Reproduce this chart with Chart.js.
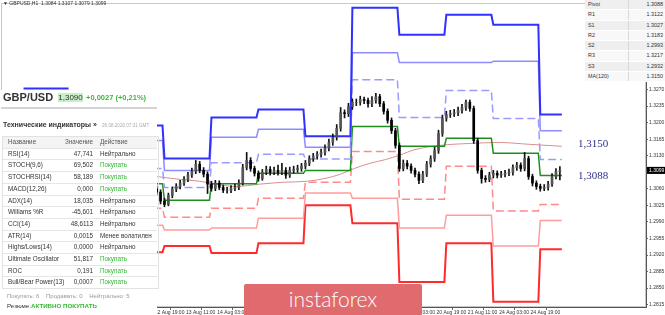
<!DOCTYPE html>
<html>
<head>
<meta charset="utf-8">
<script src="https://cdn.jsdelivr.net/npm/chart.js@4.4.0/dist/chart.umd.min.js"></script>
<style>
  body { margin: 0; background: #fff; }
  #wrap { position: relative; width: 665px; height: 315px; overflow: hidden; background: #fff; font-family: "Liberation Sans", Arial, sans-serif; }
  #c { position: absolute; left: 0; top: 0; }
  .abs { position: absolute; white-space: nowrap; }
  #panel { position: absolute; left: 0; top: 90px; width: 157px; height: 225px; background: #fff; }
  #pivtab { position: absolute; left: 585px; top: 0; width: 80px; background: #fff; }
  #banner { position: absolute; left: 244px; top: 284px; width: 178px; height: 31px; background: #e06b6e; border-radius: 2px 2px 0 0;
            color: #fff; font-family: Lato, "Open Sans", sans-serif; font-weight: 300; font-size: 21px; line-height: 29px; text-align: center; }
</style>
</head>
<body>
<div id="wrap">
  <canvas id="c" width="665" height="315"></canvas>
  <div class="abs" style="left:3px;top:0px;font-size:5px;color:#333;">&#9660; GBPUSD,H1&nbsp; 1.3084 1.3107 1.3079 1.3099</div>
  <div id="panel"></div>
  <div id="pivtab"></div>
  <div id="banner">instaforex</div>
</div>
<script>
// bar index 0 = 12 Aug 19:00 (H1)
const dayNames = ['10 Aug', '11 Aug', '12 Aug', '13 Aug', '14 Aug', '17 Aug', '18 Aug', '19 Aug', '20 Aug', '21 Aug', '24 Aug', '25 Aug'];
const dayStart = [-67, -43, -19, 5, 29, 53, 77, 101, 125, 149, 173, 197];
const lastBar = 208;

const levelR3 = [1.3272, null, 1.3194, 1.3124, 1.3211, 1.3228, 1.3171, 1.3443, 1.3386, 1.3428, 1.3407, 1.3217];
const levelR2 = [null, null, 1.3162, 1.3099, 1.3169, 1.3186, 1.3148, 1.3348, 1.3327, 1.3327, 1.3330, 1.3183];
const levelR1 = [null, null, 1.3103, 1.3063, 1.3115, 1.3133, 1.3123, 1.3291, 1.3211, 1.3268, 1.3209, 1.3122];
const levelP  = [null, null, 1.3071, 1.3036, 1.3071, 1.3093, 1.3099, 1.3192, 1.3150, 1.3167, 1.3135, 1.3088];
const levelS1 = [null, null, 1.3019, 1.3000, 1.3019, 1.3040, 1.3074, 1.3139, 1.3038, 1.3108, 1.3013, 1.3027];
const levelS2 = [null, null, 1.2983, 1.2973, 1.2977, 1.2998, 1.3051, 1.3040, 1.2977, 1.3004, 1.2939, 1.2993];
const levelS3 = [null, null, 1.2926, 1.2939, 1.2924, 1.2945, 1.3025, 1.2987, 1.2863, 1.2945, 1.2821, 1.2932];

const maBars   = [1, 13, 23, 31, 41, 54, 66, 78, 87, 95, 102, 110, 118, 125, 133, 146, 161, 176, 192, 208];
const maValues = [1.3086, 1.3080, 1.3076, 1.3070, 1.3065, 1.3070, 1.3074, 1.3076, 1.3082, 1.3091,
                  1.3103, 1.3114, 1.3122, 1.3131, 1.3143, 1.3152, 1.3156, 1.3158, 1.3154, 1.3150];

// one candle per two H1 bars, starting at bar 1
const firstOpen = 1.3060;
const candleClose = [
  1.3053, 1.3034, 1.3027, 1.3046, 1.3059, 1.3065, 1.3072, 1.3080, 1.3089, 1.3097,
  1.3112, 1.3099, 1.3091, 1.3070, 1.3061, 1.3072, 1.3063, 1.3057, 1.3057, 1.3061,
  1.3063, 1.3072, 1.3105, 1.3120, 1.3103, 1.3093, 1.3082, 1.3095, 1.3101, 1.3095,
  1.3099, 1.3095, 1.3099, 1.3089, 1.3099, 1.3101, 1.3103, 1.3108, 1.3114, 1.3124,
  1.3129, 1.3133, 1.3137, 1.3146, 1.3158, 1.3169, 1.3188, 1.3221, 1.3219, 1.3234,
  1.3243, 1.3243, 1.3249, 1.3247, 1.3240, 1.3247, 1.3255, 1.3240, 1.3224, 1.3205,
  1.3183, 1.3152, 1.3103, 1.3114, 1.3108, 1.3099, 1.3091, 1.3078, 1.3091, 1.3112,
  1.3124, 1.3141, 1.3177, 1.3209, 1.3217, 1.3219, 1.3221, 1.3226, 1.3232, 1.3243,
  1.3230, 1.3162, 1.3099, 1.3082, 1.3080, 1.3089, 1.3093, 1.3089, 1.3091, 1.3093,
  1.3095, 1.3105, 1.3110, 1.3103, 1.3124, 1.3086, 1.3072, 1.3065, 1.3061, 1.3063,
  1.3070, 1.3086, 1.3097, 1.3099
];
const candleHigh = [
  1.3066, 1.3058, 1.3040, 1.3051, 1.3064, 1.3071, 1.3078, 1.3086, 1.3095, 1.3104,
  1.3120, 1.3118, 1.3105, 1.3096, 1.3076, 1.3078, 1.3077, 1.3068, 1.3063, 1.3067,
  1.3070, 1.3079, 1.3112, 1.3137, 1.3126, 1.3108, 1.3098, 1.3101, 1.3108, 1.3107,
  1.3106, 1.3110, 1.3114, 1.3105, 1.3106, 1.3108, 1.3110, 1.3114, 1.3120, 1.3130,
  1.3135, 1.3139, 1.3144, 1.3153, 1.3165, 1.3176, 1.3196, 1.3232, 1.3227, 1.3241,
  1.3250, 1.3250, 1.3256, 1.3254, 1.3252, 1.3255, 1.3262, 1.3260, 1.3245, 1.3229,
  1.3210, 1.3188, 1.3157, 1.3121, 1.3120, 1.3113, 1.3104, 1.3096, 1.3097, 1.3118,
  1.3130, 1.3148, 1.3184, 1.3216, 1.3224, 1.3226, 1.3228, 1.3233, 1.3239, 1.3248,
  1.3248, 1.3235, 1.3167, 1.3104, 1.3088, 1.3095, 1.3099, 1.3098, 1.3097, 1.3099,
  1.3102, 1.3111, 1.3116, 1.3115, 1.3137, 1.3129, 1.3091, 1.3077, 1.3070, 1.3069,
  1.3076, 1.3092, 1.3103, 1.3107
];
const candleLow = [
  1.3047, 1.3028, 1.3022, 1.3024, 1.3041, 1.3054, 1.3060, 1.3067, 1.3075, 1.3084,
  1.3092, 1.3094, 1.3085, 1.3050, 1.3055, 1.3056, 1.3058, 1.3052, 1.3051, 1.3052,
  1.3056, 1.3058, 1.3068, 1.3100, 1.3097, 1.3087, 1.3076, 1.3078, 1.3090, 1.3089,
  1.3090, 1.3089, 1.3090, 1.3082, 1.3084, 1.3093, 1.3095, 1.3097, 1.3102, 1.3109,
  1.3118, 1.3123, 1.3127, 1.3131, 1.3140, 1.3152, 1.3163, 1.3182, 1.3210, 1.3213,
  1.3228, 1.3236, 1.3237, 1.3240, 1.3233, 1.3234, 1.3241, 1.3234, 1.3218, 1.3199,
  1.3177, 1.3146, 1.3097, 1.3098, 1.3102, 1.3093, 1.3085, 1.3071, 1.3073, 1.3086,
  1.3106, 1.3118, 1.3135, 1.3171, 1.3203, 1.3211, 1.3213, 1.3215, 1.3220, 1.3226,
  1.3224, 1.3156, 1.3093, 1.3072, 1.3074, 1.3075, 1.3083, 1.3083, 1.3084, 1.3085,
  1.3088, 1.3089, 1.3099, 1.3097, 1.3098, 1.3080, 1.3066, 1.3059, 1.3055, 1.3056,
  1.3057, 1.3065, 1.3081, 1.3079
];

const yTicks = [1.2815, 1.2850, 1.2885, 1.2920, 1.2955, 1.2990, 1.3025, 1.3060, 1.3095, 1.3130,
                1.3165, 1.3200, 1.3235, 1.3270, 1.3305, 1.3340, 1.3375, 1.3410, 1.3445];
const xTickBars = [-64, -48, -32, -16, 0, 16, 32, 48, 64, 80, 96, 112, 128, 144, 160, 176, 192];
const xTickLabels = ['10 Aug 19:00', '11 Aug 11:00', '12 Aug 03:00', '12 Aug 11:00', '12 Aug 19:00', '13 Aug 11:00',
                     '14 Aug 03:00', '14 Aug 19:00', '17 Aug 11:00', '18 Aug 03:00', '18 Aug 19:00', '19 Aug 11:00',
                     '20 Aug 03:00', '20 Aug 19:00', '21 Aug 11:00', '24 Aug 03:00', '24 Aug 19:00'];

const indNames = ['RSI(14)', 'STOCH(9,6)', 'STOCHRSI(14)', 'MACD(12,26)', 'ADX(14)', 'Williams %R', 'CCI(14)',
                  'ATR(14)', 'Highs/Lows(14)', 'Ultimate Oscillator', 'ROC', 'Bull/Bear Power(13)'];
const indValues = ['47,741', '69,502', '58,189', '0,000', '18,035', '-45,601', '48,6113', '0,0015', '0,0000', '51,817', '0,191', '0,0007'];
const indActions = ['Нейтрально', 'Покупать', 'Покупать', 'Покупать', 'Нейтрально', 'Нейтрально', 'Нейтрально',
                    'Менее волатилен', 'Нейтрально', 'Покупать', 'Покупать', 'Покупать'];

const pivotNames = ['Pivot', 'R1', 'S1', 'R2', 'S2', 'R3', 'S3', 'MA(120)'];
const pivotValues = ['1.3088', '1.3122', '1.3027', '1.3183', '1.2993', '1.3217', '1.2932', '1.3150'];


// ---- html panels ----
const panel = document.getElementById('panel');
let html = '';
html += '<div class="abs" style="left:3px;top:1px;font-size:11px;font-weight:bold;color:#333;">GBP/USD</div>';
html += '<div class="abs" style="left:58px;top:3px;width:25px;height:9px;background:#c9efc9;font-size:8px;line-height:9px;text-align:center;color:#333;">1,3090</div>';
html += '<div class="abs" style="left:86px;top:3px;font-size:7.5px;line-height:9px;font-weight:bold;color:#3cb83c;">+0,0027 (+0,21%)</div>';
html += '<div class="abs" style="left:1px;top:17px;width:156px;height:1.5px;background:#d4d4d4;"></div>';
html += '<div class="abs" style="left:3px;top:31px;font-size:7px;font-weight:bold;color:#333;">Технические индикаторы »</div>';
html += '<div class="abs" style="left:102px;top:33px;font-size:4.6px;color:#aaa;">26.08.2020 07:31 GMT</div>';

const rowH = 11.7;
const tabTop = 46;
html += '<div class="abs" style="left:2px;top:' + tabTop + 'px;width:155px;height:' + (rowH * 13 - 1) + 'px;border:1px solid #e2e2e2;"></div>';
html += '<div class="abs" style="left:3px;top:' + (tabTop + 1) + 'px;width:154px;height:' + (rowH - 1) + 'px;background:#f4f4f4;"></div>';
const rowText = (top, name, val, act, actColor, nameColor) =>
  '<div class="abs" style="left:8px;top:' + top + 'px;font-size:6.3px;line-height:' + rowH + 'px;color:' + nameColor + ';">' + name + '</div>' +
  '<div class="abs" style="left:40px;width:53px;text-align:right;top:' + top + 'px;font-size:6.3px;line-height:' + rowH + 'px;color:' + nameColor + ';">' + val + '</div>' +
  '<div class="abs" style="left:100px;top:' + top + 'px;font-size:6.3px;line-height:' + rowH + 'px;color:' + actColor + ';">' + act + '</div>';
html += rowText(tabTop, 'Название', 'Значение', 'Действие', '#555', '#555');
for (let i = 0; i < indNames.length; i++) {
  const top = tabTop + rowH * (i + 1);
  html += '<div class="abs" style="left:3px;top:' + top + 'px;width:154px;height:1px;background:#e6e6e6;"></div>';
  const green = indActions[i] === 'Покупать';
  html += rowText(top, indNames[i], indValues[i], indActions[i], green ? '#33b833' : '#333', '#333');
}
html += '<div class="abs" style="left:7px;top:203px;font-size:6px;color:#999;">Покупать: 6&nbsp;&nbsp;&nbsp; Продавать: 0&nbsp;&nbsp;&nbsp; Нейтрально: 5</div>';
html += '<div class="abs" style="left:7px;top:212px;font-size:6.2px;color:#333;">Резюме:<span style="color:#33b833;font-weight:bold;">АКТИВНО ПОКУПАТЬ</span></div>';
panel.innerHTML = html;

const pivtab = document.getElementById('pivtab');
let ph = '';
for (let i = 0; i < pivotNames.length; i++) {
  const bg = i % 2 === 0 ? '#efefef' : '#f8f8f8';
  ph += '<div style="position:relative;height:9.3px;background:' + bg + ';border-bottom:0.5px solid #fff;font-size:5.4px;line-height:9.3px;color:#333;">' +
        '<span style="position:absolute;left:3px;">' + pivotNames[i] + '</span>' +
        '<span style="position:absolute;left:43px;top:0;bottom:0;width:0.6px;background:#d8d8d8;"></span>' +
        '<span style="position:absolute;right:2px;">' + pivotValues[i] + '</span></div>';
}
pivtab.innerHTML = ph;


// ---- chart data ----
function levelPoints(vals) {
  const pts = [];
  for (let k = 0; k < vals.length; k++) {
    if (vals[k] === null) { pts.push({ x: dayStart[k], y: null }); continue; }
    const end = k + 1 < vals.length ? dayStart[k + 1] - 1 : lastBar;
    pts.push({ x: dayStart[k], y: vals[k] }, { x: end, y: vals[k] });
  }
  return pts;
}

const candleBars = candleClose.map((c, i) => 1 + 2 * i);
const candleOpen = candleClose.map((c, i) => i === 0 ? firstOpen : candleClose[i - 1]);

function levelSet(label, vals, color, width, dash) {
  return {
    type: 'line', label: label, data: levelPoints(vals),
    borderColor: color, borderWidth: width, borderDash: dash || [],
    pointRadius: 0, tension: 0, spanGaps: false, order: 2
  };
}

const priceLabels = {
  id: 'priceLabels',
  afterDatasetsDraw(chart) {
    const ctx = chart.ctx;
    const y = chart.scales.y;
    const area = chart.chartArea;
    ctx.save();
    // frame
    ctx.strokeStyle = '#c8c8c8';
    ctx.lineWidth = 1;
    ctx.strokeRect(area.left - 0.5, area.top - 0.5, area.right - area.left, area.bottom - area.top);
    // level captions
    ctx.fillStyle = '#2e2e88';
    ctx.font = '11px "Liberation Serif", serif';
    ctx.textBaseline = 'middle';
    ctx.fillText(maValues[maValues.length - 1].toFixed(4).replace('.', ','), 578, y.getPixelForValue(maValues[maValues.length - 1]) - 2);
    ctx.fillText(levelP[levelP.length - 1].toFixed(4).replace('.', ','), 578, y.getPixelForValue(levelP[levelP.length - 1]) + 1);
    // current price box
    const last = candleClose[candleClose.length - 1];
    const py = y.getPixelForValue(last);
    ctx.fillStyle = '#000';
    ctx.fillRect(area.right + 1, py - 3.5, 18, 7);
    ctx.fillStyle = '#fff';
    ctx.font = '5px "Liberation Sans", sans-serif';
    ctx.textAlign = 'left';
    ctx.fillText(last.toFixed(4), area.right + 3, py);
    ctx.restore();
  }
};

new Chart(document.getElementById('c'), {
  type: 'bar',
  data: {
    datasets: [
      {
        label: 'body',
        data: candleBars.map((b, i) => ({ x: b, y: [candleOpen[i], candleClose[i]] })),
        backgroundColor: candleBars.map((b, i) => candleClose[i] >= candleOpen[i] ? '#555555' : '#000000'),
        borderWidth: 0,
        barThickness: 2, grouped: false, order: 0
      },
      {
        label: 'wick',
        data: candleBars.map((b, i) => ({ x: b, y: [candleLow[i], candleHigh[i]] })),
        backgroundColor: '#111', barThickness: 1, grouped: false, order: 1
      },
      levelSet('R3', levelR3, '#3030ff', 2),
      levelSet('R2', levelR2, '#8c8cff', 1.5),
      levelSet('R1', levelR1, '#9a9aff', 1.5, [8, 4]),
      levelSet('Pivot', levelP, '#1d8f1d', 1.5),
      levelSet('S1', levelS1, '#ff8a8a', 1.5, [8, 4]),
      levelSet('S2', levelS2, '#ff9d9d', 1.5),
      levelSet('S3', levelS3, '#ff2b2b', 2),
      {
        type: 'line', label: 'MA(120)',
        data: maBars.map((b, i) => ({ x: b, y: maValues[i] })),
        borderColor: '#d98f8f', borderWidth: 1, pointRadius: 0,
        cubicInterpolationMode: 'monotone', order: 3
      }
    ]
  },
  options: {
    responsive: false,
    animation: false,
    layout: { padding: { left: 2, top: 3, right: 0, bottom: 0 } },
    plugins: { legend: { display: false }, tooltip: { enabled: false } },
    scales: {
      x: {
        type: 'linear', min: -78, max: 251, offset: false,
        grid: { display: true, drawOnChartArea: false, drawTicks: true, tickLength: 3, color: '#666' },
        border: { display: true, color: '#555' },
        afterBuildTicks: (s) => { s.ticks = xTickBars.map(v => ({ value: v })); },
        afterFit: (s) => { s.height = 8; },
        ticks: {
          autoSkip: false, maxRotation: 0, align: 'start', padding: 0,
          font: { family: 'Liberation Sans', size: 5 }, color: '#333',
          callback: (v) => xTickLabels[xTickBars.indexOf(v)]
        }
      },
      y: {
        position: 'right', min: 1.2810, max: 1.3451,
        grid: { display: true, drawOnChartArea: false, drawTicks: true, tickLength: 2, color: '#666' },
        border: { display: true, color: '#555' },
        afterBuildTicks: (s) => { s.ticks = yTicks.map(v => ({ value: v })); },
        afterFit: (s) => { s.width = 19; },
        ticks: {
          padding: 1,
          font: { family: 'Liberation Sans', size: 5 }, color: '#333',
          callback: (v) => v.toFixed(4)
        }
      }
    }
  },
  plugins: [priceLabels]
});
</script>
</body>
</html>
